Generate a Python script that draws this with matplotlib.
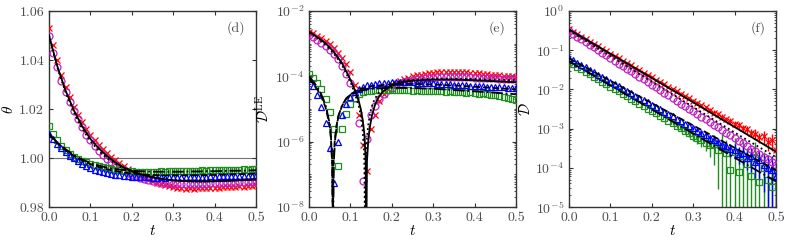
import numpy as np
import matplotlib
matplotlib.use('Agg')
import matplotlib.pyplot as plt
from matplotlib.ticker import LogLocator, NullFormatter, FormatStrFormatter, MultipleLocator

plt.rcParams['font.family'] = 'serif'
plt.rcParams['font.serif'] = ['cmr10', 'DejaVu Serif']
plt.rcParams['mathtext.fontset'] = 'cm'
plt.rcParams['axes.formatter.use_mathtext'] = True
plt.rcParams['axes.unicode_minus'] = False

# sampling times of the simulation data (every 0.01)
t = np.round(np.arange(51) * 0.01, 2)

# ---------- panel (d): theta ----------
d_red = [1.053, 1.046, 1.040, 1.034, 1.029, 1.025, 1.021, 1.0175, 1.0145, 1.0118,
         1.0095, 1.0072, 1.0052, 1.0035, 1.0020, 1.0005, 0.9993, 0.9980, 0.9968, 0.9957,
         0.9947, 0.9937, 0.9928, 0.9920, 0.9912, 0.9905, 0.9899, 0.9893, 0.9889, 0.9885,
         0.9881, 0.9879, 0.9876, 0.9875, 0.9876, 0.9874, 0.9876, 0.9877, 0.9876, 0.9878,
         0.9879, 0.9878, 0.9880, 0.9882, 0.9881, 0.9883, 0.9884, 0.9883, 0.9885, 0.9886,
         0.9888]
d_mag = [1.050, 1.043, 1.037, 1.0315, 1.0268, 1.0228, 1.019, 1.0158, 1.0125, 1.0095,
         1.0072, 1.0050, 1.0030, 1.0012, 0.9995, 0.9982, 0.9970, 0.9959, 0.9949, 0.9940,
         0.9932, 0.9925, 0.9919, 0.9914, 0.9910, 0.9906, 0.9903, 0.9900, 0.9898, 0.9896,
         0.9895, 0.9895, 0.9894, 0.9894, 0.9893, 0.9894, 0.9894, 0.9895, 0.9895, 0.9896,
         0.9897, 0.9897, 0.9898, 0.9899, 0.9899, 0.9900, 0.9901, 0.9902, 0.9902, 0.9903,
         0.9904]
d_green = [1.0130, 1.0098, 1.0072, 1.0050, 1.0032, 1.0018, 1.0006, 0.9997, 0.9989, 0.9982,
           0.9976, 0.9971, 0.9966, 0.9962, 0.9958, 0.9955, 0.9952, 0.9950, 0.9948, 0.9946,
           0.9945, 0.9944, 0.9943, 0.9943, 0.9944, 0.9943, 0.9944, 0.9945, 0.9944, 0.9945,
           0.9946, 0.9945, 0.9947, 0.9946, 0.9948, 0.9947, 0.9948, 0.9949, 0.9948, 0.9950,
           0.9949, 0.9951, 0.9950, 0.9952, 0.9951, 0.9953, 0.9952, 0.9954, 0.9953, 0.9955,
           0.9956]
d_blue = [1.0100, 1.0078, 1.0058, 1.0040, 1.0025, 1.0010, 0.9998, 0.9987, 0.9977, 0.9968,
          0.9960, 0.9953, 0.9947, 0.9942, 0.9938, 0.9934, 0.9931, 0.9929, 0.9927, 0.9925,
          0.9924, 0.9923, 0.9922, 0.9921, 0.9921, 0.9920, 0.9920, 0.9921, 0.9920, 0.9921,
          0.9922, 0.9921, 0.9922, 0.9923, 0.9922, 0.9923, 0.9924, 0.9923, 0.9924, 0.9925,
          0.9924, 0.9925, 0.9926, 0.9925, 0.9926, 0.9927, 0.9926, 0.9927, 0.9928, 0.9928,
          0.9929]
d_err_red = [0.0, 0.0, 0.0, 0.0, 0.0, 0.0, 0.0, 0.0, 0.0, 0.0,
             0.0, 0.0, 0.0, 0.0, 0.0, 0.0, 0.0, 0.0, 0.0, 0.0,
             0.0003, 0.0004, 0.0005, 0.0005, 0.0006, 0.0006, 0.0007, 0.0007, 0.0008, 0.0008,
             0.0008, 0.0009, 0.0009, 0.0009, 0.0009, 0.0010, 0.0010, 0.0010, 0.0010, 0.0010,
             0.0011, 0.0011, 0.0011, 0.0011, 0.0011, 0.0012, 0.0012, 0.0012, 0.0012, 0.0012,
             0.0012]
d_err_green = [0.0, 0.0, 0.0, 0.0, 0.0, 0.0, 0.0, 0.0, 0.0, 0.0,
               0.0, 0.0, 0.0, 0.0, 0.0, 0.0, 0.0, 0.0, 0.0, 0.0,
               0.0004, 0.0005, 0.0006, 0.0006, 0.0007, 0.0007, 0.0008, 0.0008, 0.0008, 0.0009,
               0.0009, 0.0009, 0.0009, 0.0010, 0.0010, 0.0010, 0.0010, 0.0010, 0.0011, 0.0011,
               0.0011, 0.0011, 0.0011, 0.0011, 0.0012, 0.0012, 0.0012, 0.0012, 0.0012, 0.0012,
               0.0012]

# theory curves for (d), every 0.02
d_tl = np.round(np.arange(26) * 0.02, 2)
d_solid = [1.050, 1.0375, 1.0275, 1.0195, 1.013, 1.0078, 1.0040, 1.0008, 0.9982, 0.9962,
           0.9947, 0.9935, 0.9925, 0.9918, 0.9913, 0.9909, 0.9906, 0.9905, 0.9904, 0.9904,
           0.9905, 0.9906, 0.9907, 0.9909, 0.9910, 0.9912]
d_dot = [1.050, 1.0370, 1.0268, 1.0186, 1.0120, 1.0068, 1.0030, 0.9999, 0.9975, 0.9957,
         0.9943, 0.9932, 0.9924, 0.9918, 0.9914, 0.9911, 0.9909, 0.9908, 0.9908, 0.9908,
         0.9909, 0.9910, 0.9911, 0.9912, 0.9913, 0.9914]
d_dash = [1.0095, 1.0060, 1.0032, 1.0008, 0.9990, 0.9975, 0.9963, 0.9954, 0.9947, 0.9941,
          0.9937, 0.9934, 0.9932, 0.9930, 0.9929, 0.9929, 0.9929, 0.9929, 0.9930, 0.9930,
          0.9931, 0.9932, 0.9933, 0.9934, 0.9935, 0.9936]
d_dashdot = [1.0100, 1.0064, 1.0036, 1.0012, 0.9994, 0.9980, 0.9969, 0.9961, 0.9955, 0.9951,
             0.9948, 0.9946, 0.9945, 0.9944, 0.9944, 0.9944, 0.9944, 0.9945, 0.9945, 0.9946,
             0.9946, 0.9947, 0.9948, 0.9948, 0.9949, 0.9950]

# ---------- panel (e): D^LE (log10 values) ----------
e_red = [-2.63, -2.68, -2.75, -2.83, -2.92, -3.02, -3.14, -3.28, -3.45, -3.62,
         -3.88, -4.25, -5.18, -6.10, -6.91, -5.62, -5.18, -4.77, -4.55, -4.40,
         -4.28, -4.20, -4.13, -4.08, -4.04, -4.00, -3.97, -3.95, -3.93, -3.91,
         -3.89, -3.88, -3.87, -3.86, -3.86, -3.87, -3.86, -3.88, -3.88, -3.90,
         -3.91, -3.91, -3.93, -3.93, -3.95, -3.95, -3.97, -3.98, -3.98, -4.00,
         -4.01]
e_mag = [-2.73, -2.80, -2.88, -2.97, -3.07, -3.18, -3.31, -3.47, -3.67, -3.92,
         -4.20, -4.67, -5.42, -7.20, -5.92, -5.18, -4.90, -4.70, -4.55, -4.43,
         -4.35, -4.28, -4.22, -4.18, -4.14, -4.11, -4.09, -4.07, -4.06, -4.05,
         -4.04, -4.03, -4.03, -4.02, -4.02, -4.02, -4.02, -4.03, -4.03, -4.03,
         -4.04, -4.04, -4.05, -4.05, -4.06, -4.06, -4.07, -4.07, -4.08, -4.08,
         -4.09]
e_green = [-3.92, -4.05, -4.20, -4.40, -4.70, -5.10, -5.60, -6.75, -5.60, -5.15,
           -4.85, -4.65, -4.55, -4.48, -4.46, -4.44, -4.43, -4.43, -4.42, -4.43,
           -4.42, -4.43, -4.42, -4.43, -4.43, -4.44, -4.43, -4.44, -4.45, -4.44,
           -4.45, -4.46, -4.45, -4.47, -4.46, -4.48, -4.47, -4.49, -4.50, -4.49,
           -4.51, -4.53, -4.52, -4.55, -4.56, -4.58, -4.60, -4.62, -4.65, -4.68,
           -4.72]
e_blue = [-4.08, -4.30, -4.58, -4.95, -5.43, -6.20, -7.27, -6.00, -5.18, -4.85,
          -4.62, -4.48, -4.38, -4.32, -4.28, -4.25, -4.23, -4.21, -4.20, -4.19,
          -4.18, -4.18, -4.18, -4.18, -4.18, -4.18, -4.19, -4.19, -4.20, -4.20,
          -4.21, -4.22, -4.22, -4.23, -4.24, -4.25, -4.26, -4.27, -4.28, -4.29,
          -4.30, -4.30, -4.31, -4.32, -4.32, -4.33, -4.34, -4.34, -4.35, -4.35,
          -4.36]

e_t_solid = [0, .02, .04, .06, .08, .10, .11, .12, .125, .13, .134, .137, .1385, .140,
             .143, .147, .152, .16, .17, .18, .20, .22, .25, .30, .35, .40, .45, .50]
e_solid = [-2.63, -2.80, -2.99, -3.25, -3.60, -4.10, -4.40, -4.75, -5.00, -5.35, -5.80, -6.60, -9.0, -6.60,
           -6.00, -5.55, -5.20, -4.85, -4.60, -4.45, -4.28, -4.19, -4.13, -4.10, -4.10, -4.12, -4.15, -4.18]
e_t_dot = [0, .02, .04, .06, .08, .10, .11, .12, .125, .13, .1335, .1355, .137, .139,
           .143, .148, .155, .165, .18, .20, .22, .25, .30, .35, .40, .45, .50]
e_dot = [-2.66, -2.83, -3.03, -3.30, -3.66, -4.17, -4.50, -4.90, -5.20, -5.70, -6.50, -9.0, -6.60, -6.00,
         -5.50, -5.10, -4.80, -4.55, -4.35, -4.22, -4.15, -4.10, -4.07, -4.07, -4.08, -4.10, -4.12]
e_t_dash = [0, .01, .02, .03, .04, .05, .053, .056, .0575, .059, .062, .066, .07, .08,
            .09, .10, .12, .15, .20, .25, .30, .35, .40, .45, .50]
e_dash = [-4.08, -4.22, -4.40, -4.63, -4.95, -5.50, -5.90, -6.70, -9.0, -6.70, -6.00, -5.55, -5.25, -4.90,
          -4.68, -4.55, -4.40, -4.30, -4.24, -4.23, -4.25, -4.28, -4.32, -4.36, -4.40]
e_t_dd = [0, .01, .02, .03, .04, .05, .053, .056, .058, .060, .063, .067, .072, .08,
          .09, .10, .12, .15, .20, .25, .30, .35, .40, .45, .50]
e_dd = [-4.00, -4.15, -4.33, -4.56, -4.88, -5.45, -5.85, -6.60, -9.0, -6.60, -5.95, -5.50, -5.18, -4.88,
        -4.68, -4.57, -4.45, -4.38, -4.35, -4.36, -4.38, -4.42, -4.46, -4.50, -4.55]

# ---------- panel (f): D (log10 values) ----------
f_red = [-0.46, -0.53, -0.59, -0.66, -0.72, -0.78, -0.84, -0.90, -0.97, -1.03,
         -1.09, -1.15, -1.21, -1.27, -1.33, -1.39, -1.45, -1.51, -1.57, -1.63,
         -1.69, -1.75, -1.81, -1.87, -1.93, -1.99, -2.05, -2.11, -2.17, -2.23,
         -2.29, -2.35, -2.41, -2.46, -2.52, -2.59, -2.63, -2.70, -2.76, -2.80,
         -2.88, -2.92, -2.99, -3.02, -3.10, -3.13, -3.22, -3.20, -3.35, -3.30,
         -3.55]
f_mag = [-0.52, -0.59, -0.66, -0.72, -0.79, -0.86, -0.93, -1.00, -1.06, -1.13,
         -1.20, -1.27, -1.34, -1.40, -1.47, -1.54, -1.61, -1.68, -1.74, -1.81,
         -1.88, -1.95, -2.02, -2.08, -2.15, -2.22, -2.29, -2.36, -2.42, -2.49,
         -2.56, -2.63, -2.70, -2.76, -2.83, -2.90, -2.97, -3.04, -3.10, -3.17,
         -3.24, -3.31, -3.38, -3.44, -3.51, -3.58, -3.65, -3.72, -3.78, -3.85,
         -3.92]
f_blue = [-1.20, -1.26, -1.32, -1.38, -1.44, -1.50, -1.56, -1.62, -1.68, -1.74,
          -1.80, -1.86, -1.92, -1.98, -2.04, -2.10, -2.16, -2.21, -2.27, -2.33,
          -2.39, -2.45, -2.51, -2.57, -2.63, -2.69, -2.75, -2.81, -2.87, -2.93,
          -2.99, -3.05, -3.11, -3.17, -3.23, -3.29, -3.33, -3.41, -3.45, -3.53,
          -3.55, -3.64, -3.62, -3.75, -3.70, -3.85, -3.80, -3.92, -4.00, -4.05,
          -4.20]
f_green = [-1.30, -1.36, -1.43, -1.49, -1.55, -1.61, -1.68, -1.74, -1.80, -1.86,
           -1.93, -1.99, -2.05, -2.11, -2.18, -2.24, -2.30, -2.36, -2.43, -2.49,
           -2.55, -2.61, -2.68, -2.74, -2.80, -2.86, -2.93, -2.99, -3.05, -3.11,
           -3.18, -3.24, -3.28, -3.36, -3.42, -3.40, -3.55, -3.48, -3.62, -4.05,
           -3.60, -4.10, -3.70, -3.90, -4.20, -3.75, -4.35, -4.00, -4.30, -4.50,
           -4.20]
# relative error bars (fraction of value) for (f)
f_rel_green = [0, 0, 0, 0, 0, 0, 0, 0, 0, 0,
               0, 0, 0, 0, 0, 0, 0, 0, 0, 0,
               0, 0, 0, 0, 0, 0.1, 0.1, 0.15, 0.2, 0.2,
               0.25, 0.3, 0.35, 0.4, 0.5, 0.7, 0.9, 1.2, 1.1, 1.5,
               1.3, 1.6, 1.4, 1.5, 1.8, 1.5, 1.9, 1.6, 1.8, 2.0,
               1.7]
f_rel_blue = [0, 0, 0, 0, 0, 0, 0, 0, 0, 0,
              0, 0, 0, 0, 0, 0, 0, 0, 0, 0,
              0, 0, 0, 0, 0, 0, 0, 0, 0, 0,
              0.1, 0.1, 0.15, 0.15, 0.2, 0.2, 0.25, 0.3, 0.3, 0.35,
              0.4, 0.45, 0.5, 0.5, 0.6, 0.6, 0.7, 0.8, 1.1, 1.2,
              1.3]
f_rel_red = [0, 0, 0, 0, 0, 0, 0, 0, 0, 0,
             0, 0, 0, 0, 0, 0.05, 0.05, 0.05, 0.05, 0.06,
             0.06, 0.06, 0.07, 0.07, 0.07, 0.08, 0.08, 0.08, 0.09, 0.09,
             0.1, 0.1, 0.1, 0.12, 0.12, 0.13, 0.14, 0.15, 0.15, 0.16,
             0.18, 0.2, 0.2, 0.22, 0.25, 0.28, 0.3, 0.35, 0.4, 0.45,
             0.5]
f_tl = [0.0, 0.1, 0.2, 0.3, 0.4, 0.5]
f_solid = [-0.47, -1.09, -1.71, -2.33, -2.96, -3.59]
f_dot = [-0.50, -1.15, -1.80, -2.45, -3.10, -3.73]
f_dash = [-1.21, -1.78, -2.35, -2.92, -3.49, -4.06]
f_dashdot = [-1.28, -1.90, -2.51, -3.13, -3.74, -4.35]

RED, MAG, GREEN, BLUE = '#ff0000', '#c020c0', '#1f8f1f', '#0000ff'
mk = dict(linestyle='none', markersize=5, markeredgewidth=0.9, markerfacecolor='none')
styles = [('-', 1.3), (':', 1.3), ('--', 1.3), ('-.', 1.3)]

fig = plt.figure(figsize=(7.89, 2.44), dpi=100)
lefts = [49 / 789, 309 / 789, 569 / 789]
axes = [fig.add_axes([l, 37 / 244, 207 / 789, 196 / 244]) for l in lefts]


def style_axis(ax, label):
    ax.set_xlim(0, 0.5)
    ax.xaxis.set_major_locator(MultipleLocator(0.1))
    ax.xaxis.set_major_formatter(FormatStrFormatter('%.1f'))
    ax.tick_params(which='both', direction='in', top=True, right=True,
                   labelsize=10, labelcolor='0.3', color='0.2')
    ax.tick_params(which='major', length=3, width=0.8)
    ax.tick_params(which='minor', length=1.6, width=0.6)
    for s in ax.spines.values():
        s.set_color('0.2')
        s.set_linewidth(1.0)
    ax.set_xlabel('$t$', fontsize=11, labelpad=0)
    ax.text(0.95, 0.95, label, transform=ax.transAxes, ha='right', va='top',
            fontsize=10, color='0.3')


# (d)
ax = axes[0]
ax.axhline(1.0, color='0.45', lw=0.8, zorder=1)
ax.errorbar(t, d_green, yerr=d_err_green, fmt='none', ecolor='#8fcf8f', elinewidth=0.8, zorder=2)
ax.errorbar(t, d_red, yerr=d_err_red, fmt='none', ecolor='#ff9090', elinewidth=0.8, zorder=2)
ax.plot(t, d_red, marker='x', color=RED, zorder=3, **mk)
ax.plot(t, d_mag, marker='o', color=MAG, zorder=3, **mk)
ax.plot(t, d_green, marker='s', color=GREEN, zorder=3, **mk)
ax.plot(t, d_blue, marker='^', color=BLUE, zorder=3, **mk)
for yv, (ls, lw) in zip([d_solid, d_dot, d_dash, d_dashdot], styles):
    ax.plot(d_tl, yv, color='k', ls=ls, lw=lw, zorder=4)
ax.set_ylim(0.98, 1.06)
ax.yaxis.set_major_locator(MultipleLocator(0.02))
ax.yaxis.set_major_formatter(FormatStrFormatter('%.2f'))
ax.set_ylabel(r'$\theta$', fontsize=11, labelpad=2)
style_axis(ax, '(d)')

# (e)
ax = axes[1]
ax.set_yscale('log')
ax.plot(t, 10 ** np.array(e_red), marker='x', color=RED, zorder=3, **mk)
ax.plot(t, 10 ** np.array(e_mag), marker='o', color=MAG, zorder=3, **mk)
ax.plot(t, 10 ** np.array(e_green), marker='s', color=GREEN, zorder=3, **mk)
ax.plot(t, 10 ** np.array(e_blue), marker='^', color=BLUE, zorder=3, **mk)
for tx, yv, (ls, lw) in zip([e_t_solid, e_t_dot, e_t_dash, e_t_dd],
                            [e_solid, e_dot, e_dash, e_dd], styles):
    ax.plot(tx, 10 ** np.array(yv), color='k', ls=ls, lw=lw, zorder=4)
ax.set_ylim(1e-8, 1e-2)
ax.yaxis.set_major_locator(LogLocator(base=100, numticks=10))
ax.yaxis.set_minor_locator(LogLocator(base=10, subs=np.arange(1, 10), numticks=20))
ax.yaxis.set_minor_formatter(NullFormatter())
ax.set_ylabel(r'$\mathcal{D}^{\rm LE}$', fontsize=11, labelpad=2)
style_axis(ax, '(e)')

# (f)
ax = axes[2]
ax.set_yscale('log')
for yv, rel, c in [(f_green, f_rel_green, GREEN), (f_blue, f_rel_blue, BLUE), (f_red, f_rel_red, RED)]:
    yy = 10 ** np.array(yv)
    ax.errorbar(t, yy, yerr=yy * np.array(rel), fmt='none', ecolor=c, elinewidth=1.0, zorder=2)
ax.plot(t, 10 ** np.array(f_red), marker='x', color=RED, zorder=3, **mk)
ax.plot(t, 10 ** np.array(f_mag), marker='o', color=MAG, zorder=3, **mk)
ax.plot(t, 10 ** np.array(f_green), marker='s', color=GREEN, zorder=3, **mk)
ax.plot(t, 10 ** np.array(f_blue), marker='^', color=BLUE, zorder=3, **mk)
for yv, (ls, lw) in zip([f_solid, f_dot, f_dash, f_dashdot], styles):
    ax.plot(f_tl, 10 ** np.array(yv), color='k', ls=ls, lw=lw, zorder=4)
ax.set_ylim(1e-5, 1e0)
ax.yaxis.set_major_locator(LogLocator(base=10, numticks=10))
ax.yaxis.set_minor_locator(LogLocator(base=10, subs=np.arange(2, 10), numticks=20))
ax.yaxis.set_minor_formatter(NullFormatter())
ax.set_ylabel(r'$\mathcal{D}$', fontsize=11, labelpad=2)
style_axis(ax, '(f)')

fig.savefig('out.png', dpi=100)
